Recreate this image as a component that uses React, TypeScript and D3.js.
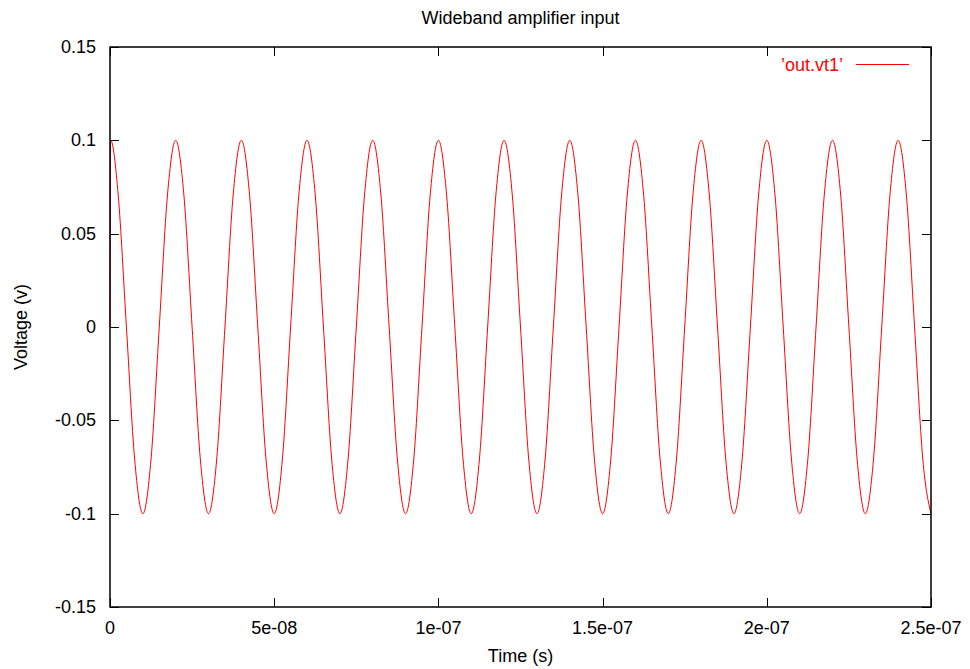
import React, { useEffect, useRef } from 'react';
import * as d3 from 'd3';

// time in ns, voltage in v
const timesNs = [
    0, 0.2,
    2.5, 5, 7.5, 10, 12.5, 15, 17.5, 20,
    22.5, 25, 27.5, 30, 32.5, 35, 37.5, 40,
    42.5, 45, 47.5, 50, 52.5, 55, 57.5, 60,
    62.5, 65, 67.5, 70, 72.5, 75, 77.5, 80,
    82.5, 85, 87.5, 90, 92.5, 95, 97.5, 100,
    102.5, 105, 107.5, 110, 112.5, 115, 117.5, 120,
    122.5, 125, 127.5, 130, 132.5, 135, 137.5, 140,
    142.5, 145, 147.5, 150, 152.5, 155, 157.5, 160,
    162.5, 165, 167.5, 170, 172.5, 175, 177.5, 180,
    182.5, 185, 187.5, 190, 192.5, 195, 197.5, 200,
    202.5, 205, 207.5, 210, 212.5, 215, 217.5, 220,
    222.5, 225, 227.5, 230, 232.5, 235, 237.5, 240,
    242.5, 245, 247.5, 250,
];

const voltages = [
    0, 0.1,
    0.0707, 0, -0.0707, -0.1, -0.0707, 0, 0.0707, 0.1,
    0.0707, 0, -0.0707, -0.1, -0.0707, 0, 0.0707, 0.1,
    0.0707, 0, -0.0707, -0.1, -0.0707, 0, 0.0707, 0.1,
    0.0707, 0, -0.0707, -0.1, -0.0707, 0, 0.0707, 0.1,
    0.0707, 0, -0.0707, -0.1, -0.0707, 0, 0.0707, 0.1,
    0.0707, 0, -0.0707, -0.1, -0.0707, 0, 0.0707, 0.1,
    0.0707, 0, -0.0707, -0.1, -0.0707, 0, 0.0707, 0.1,
    0.0707, 0, -0.0707, -0.1, -0.0707, 0, 0.0707, 0.1,
    0.0707, 0, -0.0707, -0.1, -0.0707, 0, 0.0707, 0.1,
    0.0707, 0, -0.0707, -0.1, -0.0707, 0, 0.0707, 0.1,
    0.0707, 0, -0.0707, -0.1, -0.0707, 0, 0.0707, 0.1,
    0.0707, 0, -0.0707, -0.1, -0.0707, 0, 0.0707, 0.1,
    0.0707, 0, -0.0707, -0.1,
];

const xTicks = [0, 50, 100, 150, 200, 250];
const xTickLabels = ['0', '5e-08', '1e-07', '1.5e-07', '2e-07', '2.5e-07'];
const yTicks = [-0.15, -0.1, -0.05, 0, 0.05, 0.1, 0.15];
const yTickLabels = ['-0.15', '-0.1', '-0.05', '0', '0.05', '0.1', '0.15'];

const FONT = '"Liberation Sans", Arial, sans-serif';
const FS = 18;

function App() {
    const ref = useRef(null);

    useEffect(() => {
        const svg = d3.select(ref.current);
        svg.selectAll('*').remove();

        const width = 970;
        const height = 669;
        const margin = { top: 47, right: 39, bottom: 62, left: 110 };

        const x = d3.scaleLinear()
            .domain([0, 250])
            .range([margin.left, width - margin.right]);

        const y = d3.scaleLinear()
            .domain([-0.15, 0.15])
            .range([height - margin.bottom, margin.top]);

        const tick = 9;

        // ticks, mirrored on all four sides
        const g = svg.append('g').attr('stroke', 'black').attr('stroke-width', 1);
        yTicks.forEach(v => {
            const yy = Math.round(y(v)) + 0.5;
            g.append('line').attr('x1', x(0)).attr('x2', x(0) + tick).attr('y1', yy).attr('y2', yy);
            g.append('line').attr('x1', x(250)).attr('x2', x(250) - tick).attr('y1', yy).attr('y2', yy);
        });
        xTicks.forEach(v => {
            const xx = Math.round(x(v)) + 0.5;
            g.append('line').attr('x1', xx).attr('x2', xx).attr('y1', y(-0.15)).attr('y2', y(-0.15) - tick);
            g.append('line').attr('x1', xx).attr('x2', xx).attr('y1', y(0.15)).attr('y2', y(0.15) + tick);
        });

        // tick labels
        svg.append('g')
            .selectAll('text')
            .data(yTicks)
            .join('text')
            .attr('x', x(0) - 14)
            .attr('y', d => y(d) + 6)
            .attr('text-anchor', 'end')
            .attr('font-family', FONT)
            .attr('font-size', FS)
            .text((d, i) => yTickLabels[i]);

        svg.append('g')
            .selectAll('text')
            .data(xTicks)
            .join('text')
            .attr('x', d => x(d))
            .attr('y', y(-0.15) + 27)
            .attr('text-anchor', 'middle')
            .attr('font-family', FONT)
            .attr('font-size', FS)
            .text((d, i) => xTickLabels[i]);

        // the series
        const pts = timesNs.map((t, i) => [t, voltages[i]]);
        const line = d3.line()
            .x(d => x(d[0]))
            .y(d => y(d[1]))
            .curve(d3.curveMonotoneX);

        svg.append('path')
            .datum(pts)
            .attr('fill', 'none')
            .attr('stroke', '#ff0000')
            .attr('stroke-width', 1)
            .attr('d', line);

        // border
        svg.append('rect')
            .attr('x', x(0))
            .attr('y', y(0.15))
            .attr('width', x(250) - x(0))
            .attr('height', y(-0.15) - y(0.15))
            .attr('fill', 'none')
            .attr('stroke', 'black')
            .attr('stroke-width', 1.5);

        // legend
        svg.append('text')
            .attr('x', 843)
            .attr('y', 71)
            .attr('text-anchor', 'end')
            .attr('font-family', FONT)
            .attr('font-size', FS)
            .attr('fill', '#ff0000')
            .text("\u2019out.vt1\u2019");
        svg.append('line')
            .attr('x1', 856).attr('x2', 909)
            .attr('y1', 64.5).attr('y2', 64.5)
            .attr('stroke', '#ff0000');

        // titles
        svg.append('text')
            .attr('x', (x(0) + x(250)) / 2)
            .attr('y', 24)
            .attr('text-anchor', 'middle')
            .attr('font-family', FONT)
            .attr('font-size', FS)
            .text('Wideband amplifier input');

        svg.append('text')
            .attr('x', (x(0) + x(250)) / 2)
            .attr('y', 662)
            .attr('text-anchor', 'middle')
            .attr('font-family', FONT)
            .attr('font-size', FS)
            .text('Time (s)');

        svg.append('text')
            .attr('transform', `translate(27,${y(0)}) rotate(-90)`)
            .attr('text-anchor', 'middle')
            .attr('font-family', FONT)
            .attr('font-size', FS)
            .text('Voltage (v)');
    }, []);

    return (
        <svg
            width={970}
            height={669}
            ref={ref}
            style={{ position: 'absolute', left: 0, top: 0, background: 'white' }}
        />
    );
}

export default App;
